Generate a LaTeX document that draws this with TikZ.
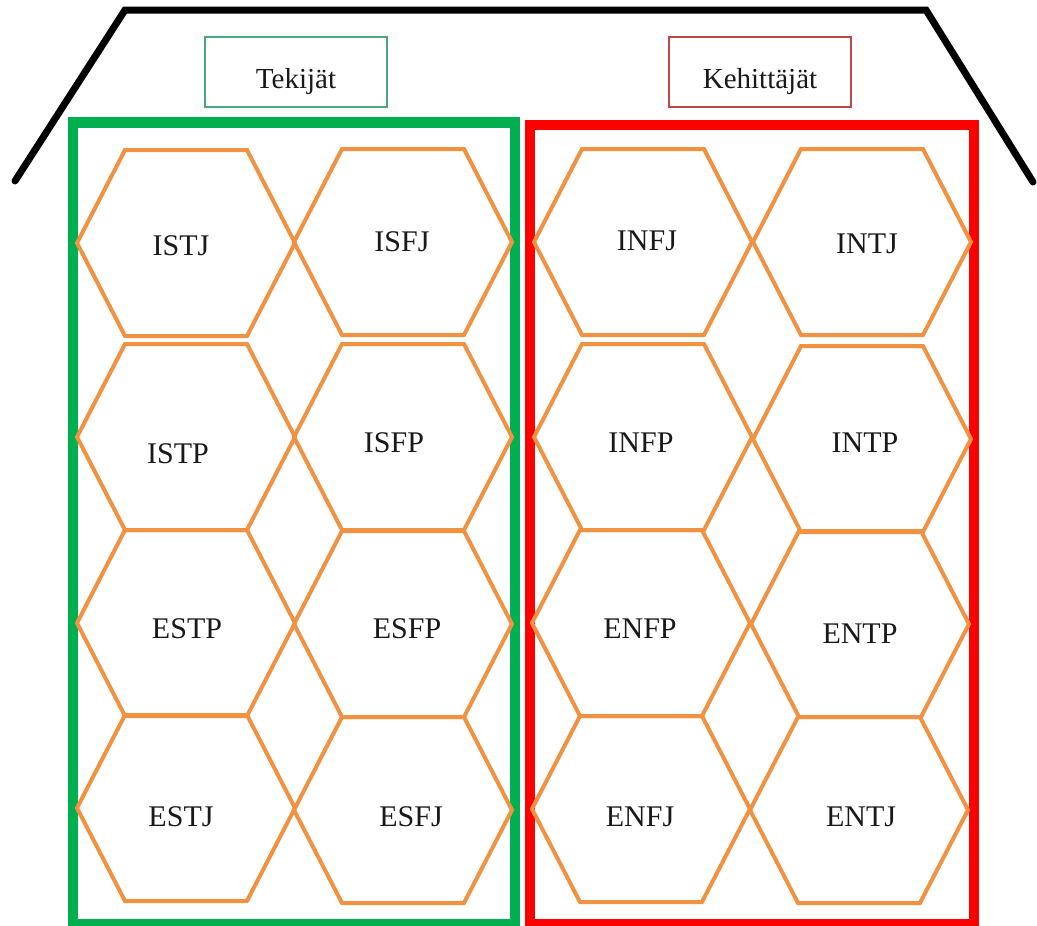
\documentclass[tikz,border=0pt]{standalone}
\usepackage{fontspec}
\setmainfont{Liberation Serif}
\definecolor{hexorange}{RGB}{241,146,67}
\definecolor{grpgreen}{RGB}{0,176,80}
\definecolor{grpred}{RGB}{255,0,0}
\definecolor{tagteal}{RGB}{70,170,125}
\definecolor{tagred}{RGB}{195,70,70}
\definecolor{ink}{RGB}{25,25,25}

\begin{document}
\begin{tikzpicture}[x=1pt,y=-1pt,
  roof/.style={line width=7pt, line join=miter, line cap=round},
  group/.style={line width=10.5pt, line join=miter},
  hexcell/.style={draw=hexorange, line width=4pt, line join=miter},
  typelabel/.style={font=\fontsize{30}{36}\selectfont, anchor=base, inner sep=0pt, text=ink},
  tag/.style={line width=1.2pt, minimum width=182pt, inner sep=0pt,
    text height=51pt, text depth=19pt, anchor=base, text=ink,
    font=\fontsize{29}{34}\selectfont}
]
\useasboundingbox (0,0) rectangle (1037,926);

% roof outline
\draw[roof] (15,181) -- (125,10) -- (926,10) -- (1033,182);

% group headings
\node[tag, draw=tagteal] (tekijat) at (296,88) {Tekijät};
\node[tag, draw=tagred] (kehittajat) at (760,88) {Kehittäjät};

% group frames
\draw[group, grpgreen] (73,122.5) rectangle (515,924);
\draw[group, grpred] (530,125) rectangle (974,924);

% hexagonal cells: centre x/y, label baseline x/y, label, name
\foreach \cx/\cy/\tx/\ty/\t/\n in {
  186/243/181/255/ISTJ/istj, 403/242/402/251/ISFJ/isfj,
  643/242/647/250/INFJ/infj, 862/242/867/253/INTJ/intj,
  186/437/178/463/ISTP/istp, 403/437/394/452/ISFP/isfp,
  643/437/641/452/INFP/infp, 862/439/865/452/INTP/intp,
  186/623/187/638/ESTP/estp, 403/624/407/638/ESFP/esfp,
  641/623/640/638/ENFP/enfp, 860/624/860/643/ENTP/entp,
  186/808/181/826/ESTJ/estj, 403/810/411/826/ESFJ/esfj,
  641/809/640/826/ENFJ/enfj, 859/810/861/826/ENTJ/entj} {
  \draw[hexcell] (\cx-109,\cy) -- (\cx-61,\cy-93) -- (\cx+61,\cy-93)
    -- (\cx+109,\cy) -- (\cx+61,\cy+93) -- (\cx-61,\cy+93) -- cycle;
  \node[typelabel] (\n) at (\tx,\ty) {\t};
}
\end{tikzpicture}
\end{document}
